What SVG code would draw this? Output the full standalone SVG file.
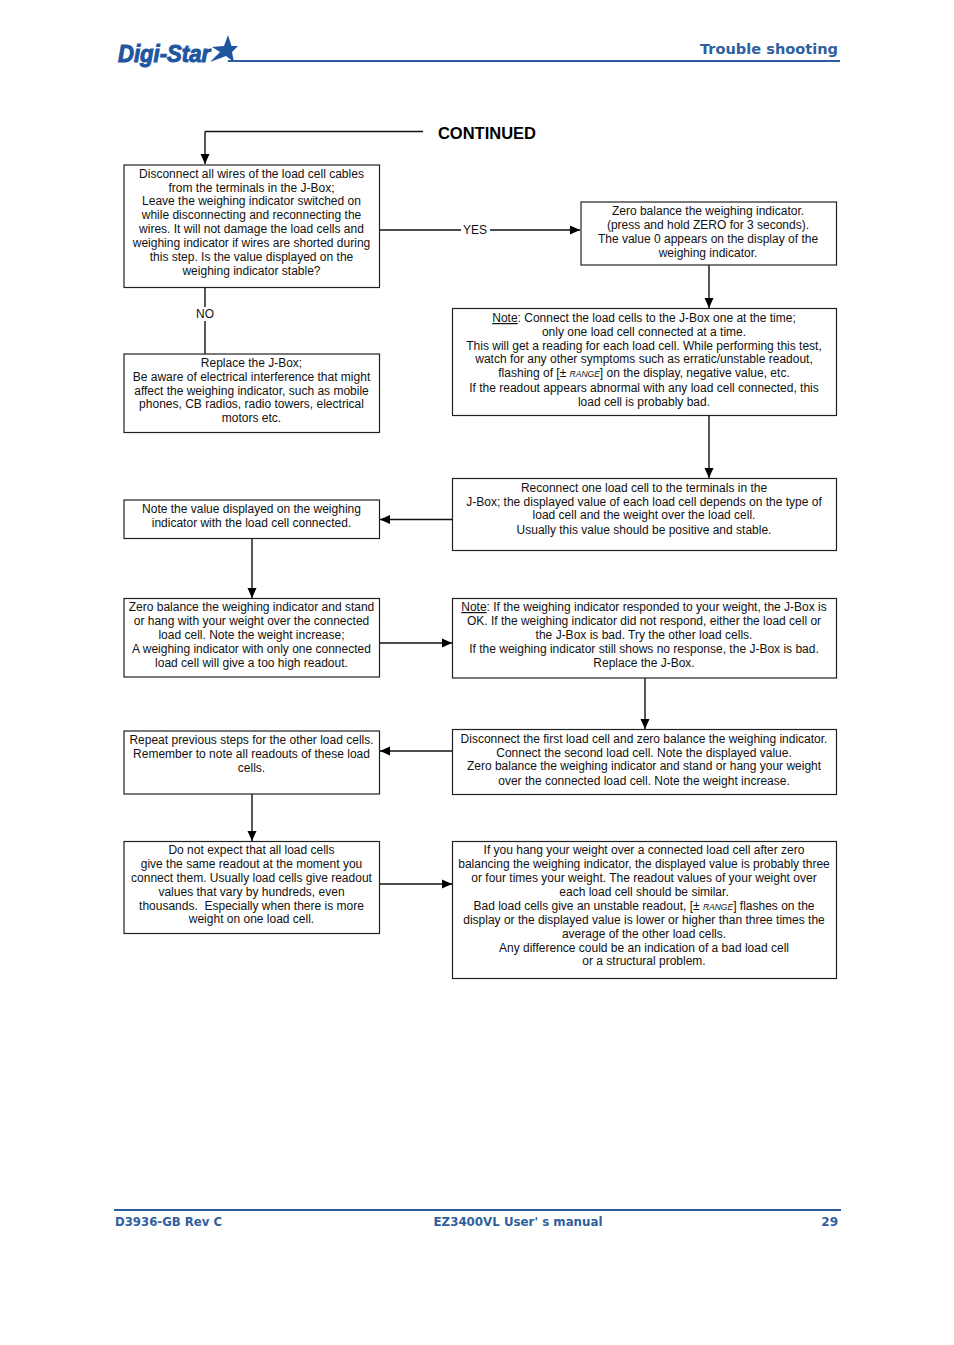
<svg xmlns="http://www.w3.org/2000/svg" width="954" height="1345" viewBox="0 0 954 1345">
<defs>
<marker id="ah" viewBox="0 0 10 10" refX="10" refY="5" markerWidth="10" markerHeight="10" markerUnits="userSpaceOnUse" orient="auto"><path d="M0 0.500L10 5L0 9.500Z" fill="#000"/></marker>
</defs>
<style>
text{font-family:"Liberation Sans",Arial,sans-serif;font-size:12px;fill:#111;text-anchor:middle;white-space:pre}
.box{fill:#fff;stroke:#222;stroke-width:1.2}
.c{fill:none;stroke:#111;stroke-width:1.4}
.a{marker-end:url(#ah)}
.hd{font-family:"DejaVu Sans",Verdana,sans-serif;font-weight:bold;fill:#2f5f9e}
.rng{font-family:"Liberation Sans",sans-serif;font-style:italic;font-size:8.5px}
.rule{fill:#2b5c9e}
</style>
<rect width="954" height="1345" fill="#fff"/>
<g id="header">
<text x="118" y="62" textLength="92" lengthAdjust="spacingAndGlyphs" style="font-size:23px;font-weight:bold;font-style:italic;fill:#1f56a0;stroke:#1f56a0;stroke-width:1;text-anchor:start">Digi-Star</text>
<polygon points="228,35 231.500,46 238,46 232,52 234,62 226,56 210,62 220,52 212,47 224,46" fill="#1f56a0"/>
<rect class="rule" x="228" y="60" width="612" height="2"/>
<text x="838" y="54" textLength="138" lengthAdjust="spacingAndGlyphs" class="hd" style="font-size:14px;text-anchor:end">Trouble shooting</text>
</g>
<g id="connectors">
<path class="c" d="M423 131.500H205"/><path class="c a" d="M205 131.500V164"/>
<path class="c a" d="M380 230H580"/>
<path class="c" d="M205 288V354"/>
<path class="c a" d="M709 265V308"/>
<path class="c a" d="M709 416V478"/>
<path class="c a" d="M452 519.500H380"/>
<path class="c a" d="M252 539V598"/>
<path class="c a" d="M380 643H452"/>
<path class="c a" d="M645 678V729"/>
<path class="c a" d="M452 751H380"/>
<path class="c a" d="M252 794V841"/>
<path class="c a" d="M380 884H452"/>
</g>
<text id="continued" x="487" y="139" style="font-size:16.500px;font-weight:bold;fill:#000">CONTINUED</text>
<g id="yes-label"><rect x="461" y="224" width="29" height="13" fill="#fff"/><text x="475" y="234">YES</text></g>
<g id="no-label"><rect x="195" y="307" width="21" height="14" fill="#fff"/><text x="205" y="318">NO</text></g>
<g id="n1"><rect class="box" x="124" y="165" width="255.500" height="122.500"/>
<text x="251.500" y="178">Disconnect all wires of the load cell cables</text>
<text x="251.500" y="192">from the terminals in the J-Box;</text>
<text x="251.500" y="205">Leave the weighing indicator switched on</text>
<text x="251.500" y="219">while disconnecting and reconnecting the</text>
<text x="251.500" y="233">wires. It will not damage the load cells and</text>
<text x="251.500" y="247">weighing indicator if wires are shorted during</text>
<text x="251.500" y="261">this step. Is the value displayed on the</text>
<text x="251.500" y="275">weighing indicator stable?</text></g>
<g id="n2"><rect class="box" x="124" y="354" width="255.500" height="78.500"/>
<text x="251.500" y="367">Replace the J-Box;</text>
<text x="251.500" y="381">Be aware of electrical interference that might</text>
<text x="251.500" y="395">affect the weighing indicator, such as mobile</text>
<text x="251.500" y="408">phones, CB radios, radio towers, electrical</text>
<text x="251.500" y="422">motors etc.</text></g>
<g id="n3"><rect class="box" x="581" y="202" width="255.500" height="63"/>
<text x="708" y="215">Zero balance the weighing indicator.</text>
<text x="708" y="229">(press and hold ZERO for 3 seconds).</text>
<text x="708" y="243">The value 0 appears on the display of the</text>
<text x="708" y="257">weighing indicator.</text></g>
<g id="n4"><rect class="box" x="452.500" y="308.500" width="384" height="107"/>
<text x="644" y="322"><tspan text-decoration="underline">Note</tspan>: Connect the load cells to the J-Box one at the time;</text>
<text x="644" y="336">only one load cell connected at a time.</text>
<text x="644" y="350">This will get a reading for each load cell. While performing this test,</text>
<text x="644" y="363">watch for any other symptoms such as erratic/unstable readout,</text>
<text x="644" y="377">flashing of [± <tspan class="rng">RANGE</tspan>] on the display, negative value, etc.</text>
<text x="644" y="392">If the readout appears abnormal with any load cell connected, this</text>
<text x="644" y="406">load cell is probably bad.</text></g>
<g id="n5"><rect class="box" x="452.500" y="478.500" width="384" height="72"/>
<text x="644" y="492">Reconnect one load cell to the terminals in the</text>
<text x="644" y="506">J-Box; the displayed value of each load cell depends on the type of</text>
<text x="644" y="519">load cell and the weight over the load cell.</text>
<text x="644" y="534">Usually this value should be positive and stable.</text></g>
<g id="n6"><rect class="box" x="124" y="500" width="255.500" height="38.500"/>
<text x="251.500" y="513">Note the value displayed on the weighing</text>
<text x="251.500" y="527">indicator with the load cell connected.</text></g>
<g id="n7"><rect class="box" x="124" y="598.500" width="255.500" height="78.500"/>
<text x="251.500" y="611">Zero balance the weighing indicator and stand</text>
<text x="251.500" y="625">or hang with your weight over the connected</text>
<text x="251.500" y="639">load cell. Note the weight increase;</text>
<text x="251.500" y="653">A weighing indicator with only one connected</text>
<text x="251.500" y="667">load cell will give a too high readout.</text></g>
<g id="n8"><rect class="box" x="452.500" y="598.500" width="384" height="79.500"/>
<text x="644" y="611"><tspan text-decoration="underline">Note</tspan>: If the weighing indicator responded to your weight, the J-Box is</text>
<text x="644" y="625">OK. If the weighing indicator did not respond, either the load cell or</text>
<text x="644" y="639">the J-Box is bad. Try the other load cells.</text>
<text x="644" y="653">If the weighing indicator still shows no response, the J-Box is bad.</text>
<text x="644" y="667">Replace the J-Box.</text></g>
<g id="n9"><rect class="box" x="452.500" y="729.500" width="384" height="65"/>
<text x="644" y="743">Disconnect the first load cell and zero balance the weighing indicator.</text>
<text x="644" y="757">Connect the second load cell. Note the displayed value.</text>
<text x="644" y="770">Zero balance the weighing indicator and stand or hang your weight</text>
<text x="644" y="785">over the connected load cell. Note the weight increase.</text></g>
<g id="n10"><rect class="box" x="124" y="731" width="255.500" height="63"/>
<text x="251.500" y="744">Repeat previous steps for the other load cells.</text>
<text x="251.500" y="758">Remember to note all readouts of these load</text>
<text x="251.500" y="772">cells.</text></g>
<g id="n11"><rect class="box" x="124" y="841.500" width="255.500" height="92"/>
<text x="251.500" y="854">Do not expect that all load cells</text>
<text x="251.500" y="868">give the same readout at the moment you</text>
<text x="251.500" y="882">connect them. Usually load cells give readout</text>
<text x="251.500" y="896">values that vary by hundreds, even</text>
<text x="251.500" y="910">thousands.  Especially when there is more</text>
<text x="251.500" y="923">weight on one load cell.</text></g>
<g id="n12"><rect class="box" x="452.500" y="841.500" width="384" height="137"/>
<text x="644" y="854">If you hang your weight over a connected load cell after zero</text>
<text x="644" y="868">balancing the weighing indicator, the displayed value is probably three</text>
<text x="644" y="882">or four times your weight. The readout values of your weight over</text>
<text x="644" y="896">each load cell should be similar.</text>
<text x="644" y="910">Bad load cells give an unstable readout, [± <tspan class="rng">RANGE</tspan>] flashes on the</text>
<text x="644" y="924">display or the displayed value is lower or higher than three times the</text>
<text x="644" y="938">average of the other load cells.</text>
<text x="644" y="952">Any difference could be an indication of a bad load cell</text>
<text x="644" y="965">or a structural problem.</text></g>
<g id="footer">
<rect class="rule" x="114" y="1209" width="727" height="2"/>
<text x="115" y="1226" class="hd" textLength="107" lengthAdjust="spacingAndGlyphs" style="text-anchor:start">D3936-GB Rev C</text>
<text x="518" y="1226" class="hd" textLength="169" lengthAdjust="spacingAndGlyphs">EZ3400VL User' s manual</text>
<text x="838" y="1226" class="hd" style="text-anchor:end">29</text>
</g>
</svg>
